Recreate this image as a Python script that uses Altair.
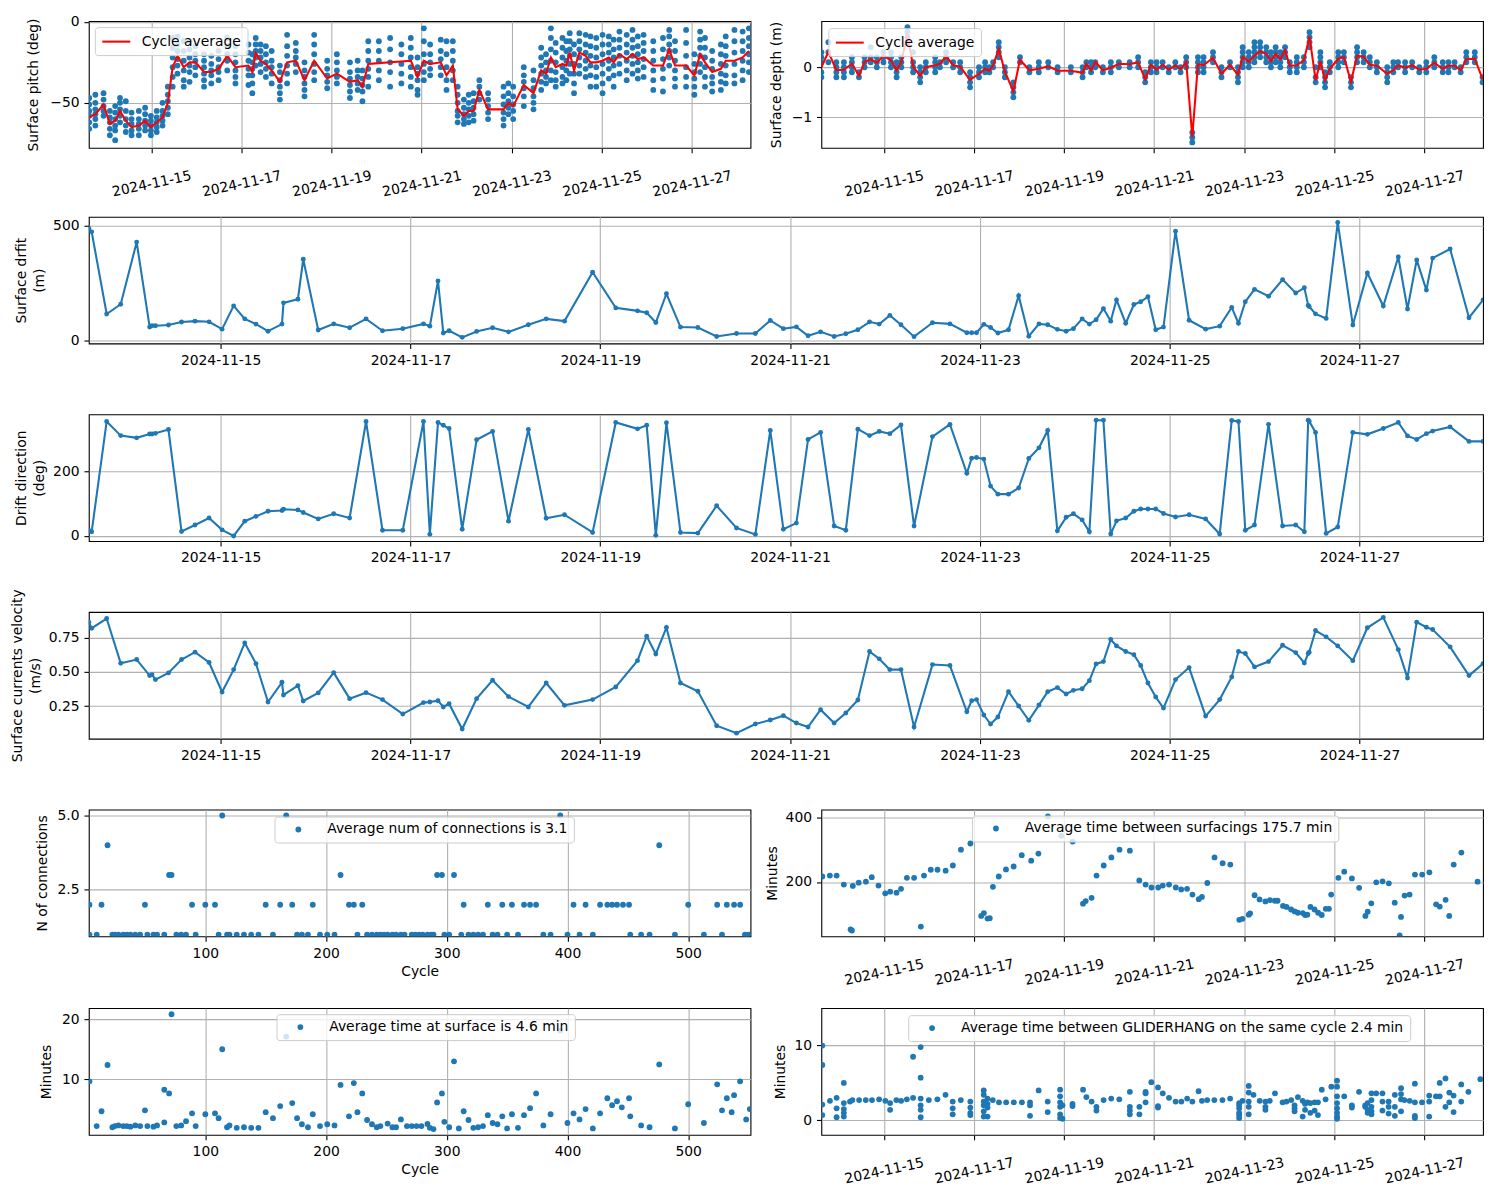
import altair as alt
import pandas as pd

# ---------------------------------------------------------------- data
BASE = pd.Timestamp("2024-11-13")

def to_time(days):
    return [(BASE + pd.Timedelta(days=float(d))).strftime("%Y-%m-%dT%H:%M:%S") for d in days]

# surfacing events (days after 2024-11-13 00:00)
surf_day = [0.611, 0.641, 0.799, 0.947, 1.115, 1.252, 1.277, 1.313, 1.450, 1.588, 1.730, 1.878, 2.015, 2.137,
            2.254, 2.372, 2.499, 2.646, 2.662, 2.814, 2.870, 3.028, 3.191, 3.359, 3.532, 3.705, 3.919, 4.137,
            4.204, 4.290, 4.346, 4.407, 4.545, 4.697, 4.865, 5.033, 5.242, 5.430, 5.623, 5.919, 6.163, 6.392,
            6.489, 6.585, 6.697, 6.845, 7.028, 7.226, 7.435, 7.634,
            7.791, 7.929, 8.066, 8.189, 8.321, 8.464, 8.587, 8.714, 8.837, 8.939, 9.051, 9.168, 9.306, 9.500,
            9.684, 9.862, 9.913, 9.964, 10.041, 10.112, 10.189, 10.301, 10.408, 10.515, 10.622, 10.714, 10.816,
            10.908, 10.985, 11.077, 11.153, 11.224, 11.301, 11.378, 11.439, 11.536, 11.622, 11.694, 11.770,
            11.852, 11.934, 12.061, 12.204, 12.378, 12.526, 12.653, 12.724, 12.796, 12.893, 13.041, 13.189,
            13.327, 13.418, 13.459, 13.469, 13.536, 13.648, 13.770, 13.929, 14.082, 14.250, 14.408, 14.505,
            14.602, 14.704, 14.770, 14.954, 15.153, 15.301]
drift_m = [490, 474, 114, 157, 429, 57, 63, 63, 66, 79, 83, 80, 48, 150, 93, 70, 39, 70, 163, 179, 354, 44, 71,
           54, 93, 41, 50, 71, 61, 259, 31, 41, 12, 38, 54, 36, 67, 93, 83, 297, 141, 128, 120, 77, 203, 57, 55,
           16, 29, 29,
           86, 50, 58, 19, 36, 16, 28, 45, 80, 70, 108, 67, 15, 76, 71, 32, 32, 32, 69, 55, 31, 45, 194, 17, 71,
           67, 47, 39, 50, 93, 70, 89, 138, 83, 176, 74, 156, 168, 190, 45, 57, 477, 87, 48, 61, 143, 74, 168,
           222, 192, 265, 206, 229, 152, 147, 115, 95, 515, 66, 294, 149, 364, 136, 351, 219, 359, 399, 98, 176]
drift_dir = [17, 13, 356, 312, 305, 317, 317, 319, 331, 14, 34, 56, 19, 0, 46, 61, 77, 79, 83, 81, 73, 53, 69, 56,
             356, 18, 18, 356, 5, 353, 344, 334, 21, 299, 325, 46, 331, 55, 66, 11, 353, 333, 344, 2, 352, 11, 9,
             94, 25, 5,
             328, 21, 40, 300, 322, 31, 18, 332, 312, 325, 318, 345, 31, 309, 347, 195, 242, 244, 239, 155, 130,
             130, 149, 241, 274, 328, 16, 58, 69, 50, 13, 360, 360, 6, 47, 56, 77, 84, 84, 84, 70, 59, 66, 53, 6,
             359, 356, 18, 34, 347, 31, 34, 13, 360, 357, 322, 8, 28, 322, 316, 334, 353, 311, 300, 318, 326, 339,
             294, 294]
cur_vel = [0.865, 0.821, 0.892, 0.564, 0.591, 0.473, 0.480, 0.444, 0.493, 0.591, 0.645, 0.569, 0.353, 0.517,
           0.713, 0.561, 0.279, 0.424, 0.331, 0.400, 0.287, 0.346, 0.495, 0.304, 0.348, 0.297, 0.191, 0.275,
           0.279, 0.289, 0.243, 0.267, 0.081, 0.304, 0.439, 0.319, 0.243, 0.419, 0.255, 0.297, 0.390, 0.583,
           0.762, 0.632, 0.826, 0.419, 0.358, 0.105, 0.051, 0.118,
           0.147, 0.179, 0.125, 0.096, 0.223, 0.125, 0.199, 0.294, 0.650, 0.596, 0.517, 0.517, 0.096, 0.554,
           0.547, 0.208, 0.289, 0.297, 0.184, 0.118, 0.169, 0.355, 0.250, 0.145, 0.257, 0.355, 0.385, 0.338,
           0.365, 0.377, 0.436, 0.559, 0.576, 0.738, 0.691, 0.650, 0.627, 0.547, 0.419, 0.316, 0.235, 0.444,
           0.532, 0.176, 0.297, 0.463, 0.650, 0.635, 0.537, 0.576, 0.696, 0.642, 0.566, 0.635, 0.645, 0.804,
           0.757, 0.691, 0.583, 0.824, 0.900, 0.664, 0.456, 0.865, 0.828, 0.811, 0.684, 0.473, 0.561]

# surface pitch per cycle
pitch_day = [0.62, 0.756, 0.938, 1.078, 1.196, 1.303, 1.432, 1.560, 1.721, 1.861, 1.989, 2.118, 2.247, 2.365,
             2.472, 2.579, 2.718, 2.847, 2.976, 3.169, 3.330, 3.491, 3.684, 3.866, 4.155, 4.241, 4.316, 4.424,
             4.542, 4.670, 4.853, 5.013, 5.206, 5.399, 5.614, 5.903, 6.118, 6.408, 6.579, 6.686, 6.815, 7.05,
             7.30, 7.55, 7.759, 7.909, 8.048, 8.188, 8.424, 8.552, 8.692, 8.799, 8.938, 9.046, 9.153, 9.281,
             9.475, 9.818, 9.925, 10.032, 10.268, 10.483, 10.654, 10.761, 10.869, 10.976, 11.126, 11.212, 11.287,
             11.383, 11.501, 11.641, 11.748, 11.877, 12.016, 12.156, 12.263, 12.391, 12.552, 12.681, 12.799,
             12.928, 13.142, 13.357, 13.496, 13.625, 13.871, 14.054, 14.182, 14.290, 14.450, 14.643, 14.751,
             14.944, 15.126, 15.265]
pitch_avg = [-59, -57, -51, -63, -61, -55, -61, -65, -64, -61, -65, -62, -59, -50, -28, -21, -28, -25, -25, -31,
             -31, -29, -21, -28, -27, -31, -19, -24, -26, -30, -37, -25, -24, -36, -24, -35, -32, -37, -36, -40,
             -26, -25.5, -25, -24.5, -24, -34, -24, -26, -25, -33, -27, -54, -58, -55, -55, -42, -54, -54, -50,
             -52, -39, -44, -30, -32, -22, -28, -26, -27, -19, -30, -19, -21, -25, -25, -24, -22, -25, -20, -23,
             -20, -23, -22, -27, -27, -17, -27, -27, -33, -20, -25, -31, -29, -24, -24, -22, -18]
pitch_samples = [
    [-47, -51, -55, -58, -62, -66], [-45, -50, -54, -57, -60, -64], [-44, -48, -52, -55, -58],
    [-55, -59, -62, -66, -70], [-52, -56, -60, -64, -67, -73], [-47, -50, -54, -58, -62],
    [-49, -55, -60, -64, -68], [-56, -60, -63, -67, -70], [-55, -60, -63, -66, -70],
    [-53, -57, -61, -64, -67], [-58, -61, -64, -67, -70], [-55, -59, -62, -65, -68],
    [-50, -55, -58, -61, -64], [-40, -45, -49, -53, -57], [-10, -16, -22, -28, -34, -40],
    [-9, -14, -18, -23, -27, -32], [-12, -18, -24, -30, -36, -40], [-12, -17, -22, -27, -31, -37],
    [-15, -20, -24, -28, -33], [-20, -24, -28, -32, -36, -40], [-21, -26, -30, -33, -38],
    [-18, -23, -28, -31, -36], [-10, -15, -20, -24, -30], [-15, -20, -25, -30, -34, -38],
    [-14, -19, -24, -29, -33, -39], [-20, -25, -29, -33, -38, -44], [-10, -14, -18, -22, -27],
    [-14, -18, -22, -26, -31], [-15, -20, -25, -29, -34], [-18, -24, -28, -32, -38],
    [-27, -31, -36, -40, -44, -48], [-8, -15, -21, -27, -32, -38], [-13, -18, -22, -26, -31],
    [-25, -30, -34, -38, -42, -46], [-8, -14, -20, -26, -31, -36], [-24, -29, -33, -37, -41],
    [-20, -25, -30, -34, -38], [-25, -31, -35, -39, -43, -47], [-24, -30, -34, -38, -42],
    [-30, -35, -39, -43, -49], [-12, -18, -24, -29, -34, -40], [-12, -18, -24, -30, -36],
    [-10, -17, -25, -31, -40], [-14, -20, -26, -32, -38], [-10, -16, -22, -28, -34, -40],
    [-22, -28, -32, -36, -42, -45], [-4, -12, -20, -26, -31, -36], [-14, -20, -25, -29, -33],
    [-11, -18, -23, -28, -33], [-12, -20, -28, -36, -42], [-12, -18, -24, -30, -36],
    [-40, -45, -50, -55, -58, -62], [-48, -53, -57, -60, -63], [-45, -50, -54, -58, -62],
    [-44, -49, -53, -57, -61], [-36, -40, -44, -48], [-44, -48, -52, -56, -60],
    [-40, -46, -51, -56, -60, -64], [-38, -44, -49, -53, -57], [-40, -46, -51, -55, -60],
    [-28, -33, -37, -41, -46, -52], [-30, -36, -41, -46, -50, -54], [-16, -22, -27, -32, -37, -42],
    [-20, -25, -30, -34, -38], [-4, -10, -17, -24, -30, -36], [-13, -19, -25, -31, -36, -40],
    [-10, -16, -22, -28, -34, -38], [-12, -18, -24, -30, -36], [-7, -12, -17, -21, -26, -32],
    [-14, -20, -26, -32, -38, -44], [-7, -12, -17, -22, -27, -32], [-8, -14, -19, -24, -29, -34],
    [-9, -15, -21, -27, -33, -40], [-10, -16, -22, -28, -34, -40], [-8, -14, -20, -26, -32, -38, -44],
    [-9, -14, -19, -24, -29, -35], [-11, -17, -22, -27, -33, -40], [-6, -11, -16, -21, -26, -32],
    [-8, -14, -19, -24, -30, -36], [-5, -11, -16, -21, -26, -32], [-9, -15, -20, -25, -30, -35],
    [-8, -13, -18, -23, -28, -34], [-12, -18, -24, -30, -36, -42], [-10, -17, -23, -29, -35, -43],
    [-5, -9, -14, -18, -22, -27], [-12, -18, -24, -30, -35, -40], [-5, -13, -21, -28, -34, -40],
    [-20, -26, -31, -35, -40, -45], [-6, -11, -16, -21, -26, -31], [-10, -16, -22, -28, -34, -40],
    [-18, -24, -29, -34, -38, -43], [-14, -20, -26, -32, -37, -42], [-9, -15, -21, -27, -33, -38],
    [-5, -12, -19, -26, -33, -38], [-6, -12, -18, -24, -30, -36], [-4, -10, -15, -20, -25, -31]]

# surface depth per cycle
depth_day = [0.611, 0.767, 0.944, 1.112, 1.289, 1.446, 1.571, 1.707, 1.843, 1.990, 2.157, 2.282, 2.387, 2.523,
             2.648, 2.805, 2.930, 3.139, 3.244, 3.380, 3.537, 3.693, 3.913, 4.111, 4.247, 4.341, 4.425, 4.550,
             4.686, 4.874, 5.021, 5.230, 5.439, 5.648, 5.857, 6.150, 6.411, 6.495, 6.599, 6.693, 6.861, 7.038,
             7.216, 7.456, 7.644, 7.801, 7.927, 8.052, 8.188, 8.324, 8.470, 8.585, 8.711, 8.846, 8.972, 9.097,
             9.306, 9.494, 9.683, 9.860, 9.965, 10.101, 10.226, 10.352, 10.488, 10.592, 10.697, 10.801, 10.906,
             11.010, 11.167, 11.324, 11.449, 11.585, 11.690, 11.794, 11.899, 12.087, 12.212, 12.369, 12.505,
             12.651, 12.787, 12.944, 13.174, 13.310, 13.414, 13.571, 13.728, 13.885, 14.042, 14.219, 14.407,
             14.533, 14.669, 14.805, 14.930, 15.118, 15.290]
depth_avg = [0.0, 0.31, -0.06, -0.05, 0.07, -0.17, 0.11, 0.16, 0.09, 0.23, 0.14, -0.06, 0.11, 0.67, 0.01, -0.17,
             0.0, 0.04, 0.07, 0.22, 0.04, 0.01, -0.25, -0.13, -0.03, -0.07, 0.04, 0.37, -0.09, -0.48, 0.15, -0.06,
             -0.03, 0.02, -0.07, -0.07, -0.11, 0.07, -0.06, 0.11, -0.06, -0.01, 0.07, 0.06, 0.10, -0.24, 0.05,
             -0.05, 0.05, -0.05, 0.04, -0.04, 0.11, -1.39, 0.06, 0.04, 0.19, -0.13, 0.05, -0.15, 0.21, 0.11, 0.23,
             0.32, 0.27, 0.12, 0.27, 0.16, 0.34, 0.03, 0.04, 0.14, 0.61, -0.26, 0.12, -0.26, -0.03, 0.17, 0.21,
             -0.29, 0.23, 0.21, 0.05, 0.03, -0.13, -0.06, 0.04, -0.01, 0.04, -0.05, -0.03, 0.09, -0.03, 0.03, 0.03,
             -0.06, 0.16, 0.17, -0.23]
depth_samples = [
    [-0.2, -0.1, 0.1, 0.2, 0.3], [0.1, 0.3, 0.5], [-0.2, -0.1, 0.0, 0.1], [-0.2, -0.1, 0.0, 0.1],
    [-0.1, 0.0, 0.1, 0.2], [-0.2, -0.1], [0.0, 0.1, 0.2], [0.1, 0.2, 0.4], [0.0, 0.1, 0.2], [0.1, 0.2, 0.3],
    [0.0, 0.1, 0.2, 0.3], [-0.2, -0.1, 0.0, 0.1], [0.0, 0.1, 0.2], [0.5, 0.6, 0.7, 0.8], [-0.1, 0.0, 0.1, 0.3],
    [-0.3, -0.2, -0.1, 0.0], [-0.1, 0.0, 0.1], [-0.1, 0.0, 0.1, 0.2], [0.0, 0.1], [0.1, 0.2, 0.3], [0.0, 0.1],
    [-0.1, 0.0, 0.1], [-0.4, -0.3, -0.2, -0.1], [-0.2, -0.1, 0.0], [-0.1, 0.0, 0.1], [-0.1, 0.0], [0.0, 0.1],
    [0.2, 0.3, 0.4, 0.5], [-0.2, -0.1, 0.0], [-0.6, -0.5, -0.4, -0.3], [0.1, 0.2], [-0.1, 0.0],
    [-0.1, 0.0, 0.1], [0.0, 0.1], [-0.1, 0.0], [-0.1, 0.0], [-0.2, -0.1, 0.0], [0.0, 0.1], [-0.1, 0.0, 0.1],
    [0.0, 0.1], [-0.1, 0.0], [-0.1, 0.0, 0.1], [0.0, 0.1], [0.0, 0.1], [0.0, 0.1, 0.2], [-0.3, -0.2, -0.1],
    [-0.1, 0.0, 0.1], [-0.1, 0.0, 0.1], [0.0, 0.1], [-0.1, 0.0], [0.0, 0.1], [-0.1, 0.0], [0.0, 0.1, 0.2],
    [-1.5, -1.4, -1.3], [-0.1, 0.0, 0.1, 0.2], [-0.1, 0.0, 0.1, 0.2], [0.1, 0.2, 0.3], [-0.2, -0.1, 0.0],
    [0.0, 0.1], [-0.3, -0.2, -0.1, 0.0], [0.0, 0.1, 0.2, 0.3, 0.4], [0.0, 0.1, 0.2, 0.3],
    [0.1, 0.2, 0.3, 0.4, 0.5], [0.2, 0.3, 0.4, 0.5], [0.1, 0.2, 0.3, 0.4], [0.0, 0.1, 0.2, 0.3],
    [0.1, 0.2, 0.3, 0.4], [0.0, 0.1, 0.2, 0.3], [0.2, 0.3, 0.4], [-0.1, 0.0, 0.1], [-0.1, 0.0, 0.1, 0.2],
    [0.0, 0.1, 0.2], [0.4, 0.5, 0.6, 0.7], [-0.3, -0.2, 0.0], [0.0, 0.1, 0.2, 0.3], [-0.4, -0.3, -0.2, -0.1],
    [-0.1, 0.0, 0.1], [0.0, 0.1, 0.2, 0.3], [0.1, 0.2, 0.3], [-0.4, -0.3, -0.2], [0.1, 0.2, 0.3, 0.4],
    [0.1, 0.2, 0.3], [0.0, 0.1, 0.2], [-0.1, 0.0, 0.1], [-0.3, -0.2, -0.1, 0.0], [-0.1, 0.0, 0.1], [0.0, 0.1],
    [-0.1, 0.0, 0.1], [0.0, 0.1], [-0.1, 0.0], [-0.1, 0.0, 0.1], [0.0, 0.1, 0.2], [-0.1, 0.0, 0.1],
    [-0.1, 0.0, 0.1], [0.0, 0.1], [-0.1, 0.0], [0.1, 0.2, 0.3], [0.1, 0.2, 0.3], [-0.3, -0.2]]

# number of connections per cycle
conn_cycle_n1 = [4, 10, 23, 25, 28, 32, 35, 38, 42, 46, 52, 57, 60, 66, 76, 80, 84, 92, 111, 118, 120, 126, 132,
                 138, 144, 156, 176, 180, 185, 195, 201, 207, 226, 234, 238, 242, 245, 248, 251, 255, 258, 262,
                 265, 271, 274, 277, 280, 284, 287, 289, 298, 302, 312, 318, 322, 326, 330, 338, 342, 350, 359,
                 380, 386, 400, 410, 421, 452, 461, 468, 489, 513, 528, 547, 550]
conn_cycle_n2 = [4, 14, 50, 89, 100, 108, 150, 162, 172, 189, 219, 223, 230, 314, 334, 346, 354, 364, 369, 374,
                 405, 415, 427, 433, 437, 441, 446, 451, 500, 524, 532, 538, 543]
conn_cycle_n3 = [70, 72, 212, 292, 296, 306]
conn_cycle_n4 = [19, 476]
conn_cycle_n5 = [114, 167, 394]

# time at surface per cycle
tas_cycle = [4, 10, 14, 19, 23, 25, 28, 32, 35, 38, 42, 46, 50, 52, 57, 60, 66, 66, 70, 72, 76, 80, 84, 89, 92,
             100, 108, 111, 114, 118, 120, 126, 132, 138, 144, 150, 156, 162, 167, 172, 176, 180, 185, 189, 195,
             201, 207, 212, 219, 223, 226, 230, 234, 238, 242, 245, 251, 255, 258, 262, 267, 271, 275, 279, 284,
             286, 289, 292, 296, 298, 302, 306, 310, 314, 318, 322, 326, 330, 334, 338, 342, 346, 350, 354, 359,
             364, 369, 374, 380, 386, 394, 400, 405, 410, 415, 421, 427, 433, 437, 441, 445, 451, 452, 461, 468,
             476, 489, 500, 513, 524, 528, 532, 536, 538, 543, 548, 551]
tas_min = [9.7, 2.3, 4.75, 12.4, 2.1, 2.3, 2.4, 2.3, 2.3, 2.2, 2.4, 2.3, 4.9, 2.3, 2.2, 2.4, 2.9, 8.3, 7.7, 20.8,
           2.3, 2.4, 3.1, 4.4, 2.3, 4.25, 4.4, 3.6, 15.0, 2.1, 2.4, 2.0, 2.1, 2.0, 2.0, 4.6, 3.6, 5.6, 17.1, 6.1,
           3.6, 2.6, 2.1, 4.25, 2.3, 2.6, 2.4, 9.1, 3.9, 9.4, 4.6, 7.7, 3.3, 2.6, 2.1, 2.3, 2.7, 2.1, 2.1, 3.4,
           2.3, 2.3, 2.3, 2.3, 2.65, 2.0, 1.8, 6.2, 7.7, 3.0, 2.1, 13.0, 1.9, 4.75, 3.3, 2.0, 2.1, 2.3, 4.1, 2.8,
           2.6, 3.9, 1.9, 4.25, 2.0, 4.1, 5.25, 7.7, 2.4, 4.25, 18.1, 2.8, 4.4, 3.4, 5.1, 1.9, 4.4, 6.9, 5.75,
           6.4, 5.4, 6.9, 3.9, 2.4, 2.1, 12.5, 1.9, 5.9, 2.8, 9.2, 4.9, 6.9, 4.6, 7.4, 9.7, 3.4, 5.1]

# time between surfacings
gap_day = [0.632, 0.80, 0.95, 1.11, 1.26, 1.29, 1.31, 1.44, 1.60, 1.73, 1.88, 2.03, 2.14, 2.28, 2.38, 2.51, 2.67,
           2.82, 2.89, 3.04, 3.19, 3.37, 3.53, 3.71, 3.92, 4.16, 4.22, 4.30, 4.35, 4.42, 4.55, 4.71, 4.88, 5.06,
           5.27, 5.43, 5.64, 5.94, 6.19, 6.42, 6.48, 6.61, 6.72, 6.88, 7.05, 7.23, 7.46, 7.67, 7.81, 7.94, 8.09,
           8.19, 8.33, 8.48, 8.60, 8.73, 8.85, 8.99, 9.06, 9.18, 9.34, 9.52, 9.69, 9.89, 9.96, 10.10, 10.13,
           10.23, 10.34, 10.47, 10.57, 10.68, 10.74, 10.86, 10.94, 11.04, 11.12, 11.19, 11.30, 11.35, 11.40,
           11.47, 11.56, 11.64, 11.72, 11.81, 11.88, 11.93, 12.09, 12.22, 12.39, 12.55, 12.69, 12.74, 12.82,
           12.93, 13.07, 13.21, 13.34, 13.45, 13.48, 13.56, 13.67, 13.79, 13.95, 14.11, 14.26, 14.34, 14.47,
           14.55, 14.65, 14.82, 15.18]
gap_min = [217, 220, 220, 192, 53, 50, 188, 198, 201, 215, 189, 165, 170, 167, 179, 213, 213, 62, 220, 238, 238,
           235, 251, 300, 319, 95, 104, 87, 88, 185, 217, 239, 248, 283, 266, 288, 403, 343, 325, 133, 141, 151,
           220, 251, 276, 300, 297, 205, 192, 183, 183, 189, 192, 183, 177, 179, 161, 147, 154, 197, 276, 258,
           254, 83, 86, 99, 103, 159, 146, 140, 144, 142, 142, 126, 123, 115, 109, 105, 104, 98, 99, 123, 115,
           105, 98, 117, 117, 161, 213, 232, 211, 182, 95, 108, 134, 199, 202, 196, 136, 35, 92, 158, 161, 223,
           223, 230, 131, 124, 145, 95, 254, 291, 201]

# time between GLIDERHANG on the same cycle
gh_day = [0.632, 0.802, 0.950, 1.110, 1.247, 1.300, 1.449, 1.597, 1.735, 1.894, 2.032, 2.138, 2.276, 2.382,
          2.509, 2.647, 2.816, 2.997, 3.187, 3.368, 3.527, 3.707, 3.919, 4.216, 4.300, 4.417, 4.555, 4.714,
          4.884, 5.064, 5.244, 5.435, 5.636, 5.912, 5.965, 6.187, 6.421, 6.495, 6.611, 6.718, 6.877, 7.046,
          7.226, 7.460, 7.672, 7.809, 7.937, 8.085, 8.191, 8.329, 8.477, 8.604, 8.732, 8.848, 8.986, 9.060,
          9.177, 9.336, 9.516, 9.686, 9.887, 9.961, 10.099, 10.205, 10.343, 10.470, 10.566, 10.682, 10.852,
          10.937, 11.043, 11.117, 11.191, 11.297, 11.350, 11.403, 11.467, 11.562, 11.636, 11.721, 11.806,
          11.933, 12.060, 12.219, 12.389, 12.548, 12.686, 12.739, 12.824, 12.930, 13.068, 13.205, 13.343,
          13.481, 13.555, 13.672, 13.788, 13.947, 14.106, 14.255, 14.339, 14.467, 14.552, 14.647, 14.817,
          14.976, 15.241]
gh_vals = [
    [10.0, 7.4, 2.1, 0.7], [2.6], [3.0, 1.6, 0.4], [5.0, 2.3, 1.5, 1.0, 0.5], [2.5], [2.7], [2.7], [2.7], [2.7],
    [2.8], [2.6], [2.3, 1.4], [2.7], [2.6], [2.8], [8.5, 3.0], [9.8, 5.7, 2.9, 2.0, 1.4, 0.4], [2.7], [2.8],
    [3.4], [2.5, 1.6, 0.8], [2.7], [2.5, 1.7, 1.0, 0.7], [4.0, 3.4, 2.5, 2.0, 1.2, 0.5], [2.9, 2.2, 1.7, 0.5],
    [2.7], [2.4], [2.4], [2.4], [2.4], [2.4, 2.0, 0.6], [4.0], [2.5, 1.1], [4.1, 3.2, 2.4, 1.8, 0.8, 0.3],
    [2.0, 0.2], [2.2, 1.9], [4.1], [3.1], [2.5], [1.8, 1.3], [2.7], [2.9], [2.8], [3.8, 1.8, 1.3, 0.8],
    [1.8, 0.8], [3.8, 3.6, 2.4], [5.1], [4.4, 1.9, 1.7], [3.6], [3.0], [2.5], [2.5], [2.9], [2.5], [3.9],
    [2.6], [2.7], [2.7], [2.7], [2.9], [2.3, 2.0, 1.6, 1.0, 0.7, 0.3], [2.6], [4.6, 3.7, 2.5, 1.8, 0.8],
    [3.4], [2.6], [2.5, 1.8, 1.4], [2.6], [3.6], [2.4], [2.5], [2.7], [2.0, 1.6, 1.2], [3.1], [2.6, 0.5],
    [2.2, 1.4], [2.4], [2.3, 1.0], [2.4, 1.3], [2.4, 0.7], [4.1], [2.8], [4.5],
    [5.3, 4.5, 3.2, 2.3, 1.6, 1.0, 0.5, 0.2], [3.2], [2.0, 1.7], [3.8], [2.0, 1.8], [2.3, 1.4, 1.0],
    [3.6, 2.7, 1.8, 1.2, 0.8], [3.6], [3.6, 2.5, 1.3], [2.5, 1.8, 0.9], [3.4, 1.8, 0.6], [4.3, 3.5, 2.8, 1.2],
    [2.7], [2.6], [4.9, 2.4, 0.6, 0.3], [2.4], [3.3, 2.5, 0.5], [3.2], [5.0, 3.2], [5.6, 1.8], [3.7, 2.4],
    [3.3, 1.1], [4.8, 2.5], [3.8], [5.5]]

# ---------------------------------------------------------------- style
BLUE = "#1f77b4"
FONT = "DejaVu Sans"
FS = 13.9
LW = 2.08
FULL_W, HALF_W, H = 1397, 663, 127

T_START = alt.DateTime(year=2024, month=11, date=13, hours=14, minutes=40)
T_END = alt.DateTime(year=2024, month=11, date=28, hours=7, minutes=13)
DATE_TICKS = [alt.DateTime(year=2024, month=11, date=d) for d in range(15, 28, 2)]


def time_x(rotated):
    if rotated:
        axis = alt.Axis(values=DATE_TICKS, format="%Y-%m-%d", title=None, labelAngle=348,
                        labelAlign="center", labelBaseline="middle", labelPadding=31)
    else:
        axis = alt.Axis(values=DATE_TICKS, format="%Y-%m-%d", title=None, labelAngle=0,
                        labelAlign="center", labelBaseline="top")
    return alt.X("t:T", scale=alt.Scale(domain=[T_START, T_END], nice=False), axis=axis)


def cycle_x():
    return alt.X("cycle:Q", scale=alt.Scale(domain=[3.5, 551.6], nice=False, zero=False),
                 axis=alt.Axis(values=[100, 200, 300, 400, 500], format="d", title="Cycle",
                               titleX=HALF_W / 2, titleY=35, titleBaseline="middle"))


def y_enc(field, domain, values, fmt, title, title_x):
    return alt.Y(f"{field}:Q", scale=alt.Scale(domain=domain, nice=False, zero=False),
                 axis=alt.Axis(values=values, format=fmt, title=title, titleX=title_x, titleY=H / 2,
                               titleAngle=270, titleAlign="center", titleBaseline="middle"))


LEG_COMMON = dict(title=None, orient="none", padding=6, strokeColor="#cccccc",
                  fillColor="rgba(255,255,255,0.8)", cornerRadius=3, labelFont=FONT,
                  labelFontSize=FS, labelColor="black", labelLimit=1000)


def line_legend(x, y):
    return alt.Legend(legendX=x, legendY=y, symbolType="M-2,0H2", symbolSize=196,
                      symbolStrokeWidth=LW, symbolOffset=7, labelOffset=17, **LEG_COMMON)


def dot_legend(x, y):
    return alt.Legend(legendX=x, legendY=y, symbolType="circle", symbolSize=34, symbolOpacity=1,
                      symbolOffset=11, labelOffset=22, **LEG_COMMON)


def spacer(h):
    return alt.Chart(pd.DataFrame({"a": [0]})).mark_rule(opacity=0, strokeWidth=0).encode(
        x=alt.value(0), y=alt.value(0), y2=alt.value(0)
    ).properties(width=1, height=h, view=alt.ViewBackground(stroke="transparent", strokeWidth=0))


# ---------------------------------------------------------------- panels
def cycle_panel(days, avg, samples, ydom, yvals, yfmt, ytitle, tx, legx, legy):
    pts = pd.DataFrame({"t": to_time([d for d, s in zip(days, samples) for _ in s]),
                        "v": [v for s in samples for v in s]})
    av = pd.DataFrame({"t": to_time(days), "v": avg, "s": "Cycle average"})
    scatter = alt.Chart(pts).mark_circle(color=BLUE, size=34, opacity=1, clip=True).encode(
        x=time_x(True), y=y_enc("v", ydom, yvals, yfmt, ytitle, tx))
    line = alt.Chart(av).mark_line(strokeWidth=LW, clip=True).encode(
        x="t:T", y="v:Q",
        color=alt.Color("s:N", scale=alt.Scale(domain=["Cycle average"], range=["red"]),
                        legend=line_legend(legx, legy)))
    return alt.layer(scatter, line).properties(width=HALF_W, height=H)


pitch = cycle_panel(pitch_day, pitch_avg, pitch_samples, [-77.8, 0.4], [-50, 0], "d",
                    "Surface pitch (deg)", -55, 6, 6)
depth = cycle_panel(depth_day, depth_avg, depth_samples, [-1.61, 0.92], [-1, 0], "d",
                    "Surface depth (m)", -45, 7, 7)

surf_df = pd.DataFrame({"t": to_time(surf_day), "drift": drift_m, "dir": drift_dir, "vel": cur_vel})


def line_panel(field, ydom, yvals, yfmt, ytitle, tx):
    base = alt.Chart(surf_df).encode(x=time_x(False), y=y_enc(field, ydom, yvals, yfmt, ytitle, tx))
    return alt.layer(base.mark_line(color=BLUE, strokeWidth=LW, clip=True),
                     base.mark_circle(color=BLUE, size=24, opacity=1, clip=True)
                     ).properties(width=FULL_W, height=H)


drift = line_panel("drift", [-15, 540], [0, 500], "d", ["Surface drfit", "(m)"], -67.5)
direction = line_panel("dir", [-16, 378], [0, 200], "d", ["Drift direction", "(deg)"], -67.5)
velocity = line_panel("vel", [0.01, 0.94], [0.25, 0.5, 0.75], ".2f",
                      ["Surface currents velocity", "(m/s)"], -71)

conn_cycles = conn_cycle_n1 + conn_cycle_n2 + conn_cycle_n3 + conn_cycle_n4 + conn_cycle_n5
conn_vals = ([1] * len(conn_cycle_n1) + [2] * len(conn_cycle_n2) + [3] * len(conn_cycle_n3)
             + [4] * len(conn_cycle_n4) + [5] * len(conn_cycle_n5))
CONN_LBL = "Average num of connections is 3.1"
conn_df = pd.DataFrame({"cycle": conn_cycles, "v": conn_vals, "s": CONN_LBL})
conn = alt.Chart(conn_df).mark_circle(size=34, opacity=1, clip=True).encode(
    x=cycle_x(), y=y_enc("v", [0.94, 5.2], [2.5, 5.0], ".1f", "N of connections", -46),
    color=alt.Color("s:N", scale=alt.Scale(domain=[CONN_LBL], range=[BLUE]), legend=dot_legend(186, 7))
).properties(width=HALF_W, height=H)

GAP_LBL = "Average time between surfacings 175.7 min"
gap_df = pd.DataFrame({"t": to_time(gap_day), "v": gap_min, "s": GAP_LBL})
gap = alt.Chart(gap_df).mark_circle(size=34, opacity=1, clip=True).encode(
    x=time_x(True), y=y_enc("v", [32, 424], [200, 400], "d", "Minutes", -49),
    color=alt.Color("s:N", scale=alt.Scale(domain=[GAP_LBL], range=[BLUE]), legend=dot_legend(151, 6))
).properties(width=HALF_W, height=H)

TAS_LBL = "Average time at surface is 4.6 min"
tas_df = pd.DataFrame({"cycle": tas_cycle, "v": tas_min, "s": TAS_LBL})
tas = alt.Chart(tas_df).mark_circle(size=34, opacity=1, clip=True).encode(
    x=cycle_x(), y=y_enc("v", [0.83, 21.8], [10, 20], "d", "Minutes", -42),
    color=alt.Color("s:N", scale=alt.Scale(domain=[TAS_LBL], range=[BLUE]), legend=dot_legend(188, 6))
).properties(width=HALF_W, height=H)

GH_LBL = "Average time between GLIDERHANG on the same cycle 2.4 min"
gh_df = pd.DataFrame({"t": to_time([d for d, s in zip(gh_day, gh_vals) for _ in s]),
                      "v": [v for s in gh_vals for v in s], "s": GH_LBL})
gh = alt.Chart(gh_df).mark_circle(size=34, opacity=1, clip=True).encode(
    x=time_x(True), y=y_enc("v", [-1.96, 15.0], [0, 10], "d", "Minutes", -41),
    color=alt.Color("s:N", scale=alt.Scale(domain=[GH_LBL], range=[BLUE]), legend=dot_legend(87, 7))
).properties(width=HALF_W, height=H)

# ---------------------------------------------------------------- layout
row1 = alt.hconcat(pitch, depth, spacing=71, bounds="flush").resolve_scale(color="independent")
row5 = alt.hconcat(conn, gap, spacing=71, bounds="flush").resolve_scale(color="independent")
row6 = alt.hconcat(tas, gh, spacing=71, bounds="flush").resolve_scale(color="independent")

chart = alt.vconcat(row1, spacer(16), drift, spacer(45), direction, spacer(21.5), velocity, spacer(44),
                    row5, spacer(18.7), row6, spacing=0
                    ).resolve_scale(color="independent").properties(
    padding={"left": 2, "top": 5, "right": 8, "bottom": 5}
).configure(font=FONT).configure_axis(
    domain=False, grid=True, gridColor="#b0b0b0", gridWidth=1.1, tickColor="black", tickSize=4.9,
    tickWidth=1.1, labelPadding=4.9, labelFont=FONT, labelFontSize=FS, labelColor="black",
    titleFont=FONT, titleFontSize=FS, titleColor="black", titleFontWeight="normal", titleLineHeight=18,
    labelFlush=False, labelOverlap=False
).configure_view(stroke="black", strokeWidth=1.1)

chart.save("out.html", embed_options={"renderer": "svg", "actions": False})
